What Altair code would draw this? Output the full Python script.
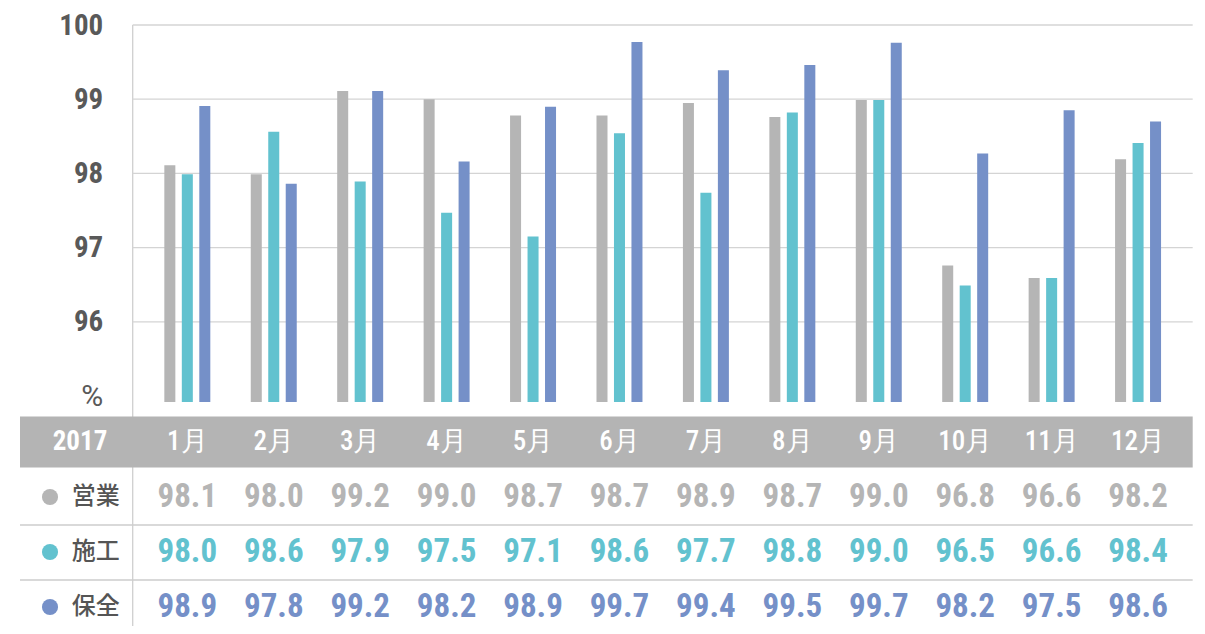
import altair as alt
import pandas as pd

# ---------------- data ----------------
months = ["1月", "2月", "3月", "4月", "5月", "6月", "7月", "8月", "9月", "10月", "11月", "12月"]
series_names = ["営業", "施工", "保全"]
series_colors = ["#b5b5b5", "#62c2cf", "#7590c8"]
year_label = "2017"

# bar heights (%)
bar_eigyo = [98.11, 97.99, 99.11, 99.00, 98.78, 98.78, 98.95, 98.76, 98.99, 96.76, 96.59, 98.19]
bar_seko = [97.99, 98.56, 97.89, 97.47, 97.15, 98.54, 97.74, 98.82, 98.99, 96.49, 96.59, 98.41]
bar_hozen = [98.91, 97.86, 99.11, 98.16, 98.90, 99.77, 99.39, 99.46, 99.76, 98.27, 98.85, 98.70]

# values printed in the table under the chart
tbl_eigyo = [98.1, 98.0, 99.2, 99.0, 98.7, 98.7, 98.9, 98.7, 99.0, 96.8, 96.6, 98.2]
tbl_seko = [98.0, 98.6, 97.9, 97.5, 97.1, 98.6, 97.7, 98.8, 99.0, 96.5, 96.6, 98.4]
tbl_hozen = [98.9, 97.8, 99.2, 98.2, 98.9, 99.7, 99.4, 99.5, 99.7, 98.2, 97.5, 98.6]

y_min, y_max = 94.92, 100
grid_values = [96, 97, 98, 99, 100]
axis_values = [95, 96, 97, 98, 99, 100]

# ---------------- tables for the library ----------------
bars = pd.DataFrame(
    [(m, s, v)
     for s, vals in zip(series_names, [bar_eigyo, bar_seko, bar_hozen])
     for m, v in zip(months, vals)],
    columns=["month", "series", "value"],
)
cells = pd.DataFrame(
    [(m, s, r + 1, v)
     for r, (s, vals) in enumerate(zip(series_names, [tbl_eigyo, tbl_seko, tbl_hozen]))
     for m, v in zip(months, vals)],
    columns=["month", "series", "row", "value"],
)
row_labels = pd.DataFrame({"series": series_names, "row": [1, 2, 3]})
header = pd.DataFrame({"month": months, "row": [0] * len(months)})
grid_df = pd.DataFrame({"v": grid_values})

W, H = 1060, 377
LEFT = -112.7

NUM_FONT = "Roboto Condensed, Liberation Sans Narrow, DejaVu Sans Condensed, Roboto, sans-serif"
CJK_FONT = "Noto Sans CJK JP"

xscale = alt.Scale(domain=months, paddingInner=0.468, paddingOuter=0.366)
yscale = alt.Scale(domain=[y_min, y_max], zero=False, nice=False)
rowscale = alt.Scale(domain=[0, 3], range=[417, 582], zero=False, nice=False)
cscale = alt.Scale(domain=series_names, range=series_colors)

X = alt.X("month:N", scale=xscale, axis=None, title=None)
Yrow = alt.Y("row:Q", scale=rowscale, axis=None)

vline = alt.Chart(pd.DataFrame({"k": [0]})).mark_rule(color="#cfcfcf", strokeWidth=1.3).encode(
    x=alt.value(0), y=alt.value(0), y2=alt.value(601)
)

grid = alt.Chart(grid_df).mark_rule(color="#d4d4d4", strokeWidth=1.3).encode(
    y=alt.Y("v:Q", scale=yscale, axis=None), x=alt.value(0), x2=alt.value(W)
)

bar_layer = alt.Chart(bars).mark_bar().encode(
    x=X,
    xOffset=alt.XOffset("series:N", scale=alt.Scale(domain=series_names, paddingInner=0.37, paddingOuter=0)),
    y=alt.Y(
        "value:Q",
        scale=yscale,
        title=None,
        axis=alt.Axis(
            values=axis_values,
            labelExpr="datum.value == 95 ? '%\u00a0' : datum.label",
            domain=False,
            ticks=False,
            tickSize=0,
            grid=False,
            labelPadding=30,
            labelFont={"condition": {"test": "datum.value == 95", "value": "Roboto"}, "value": NUM_FONT},
            labelFontSize={"condition": {"test": "datum.value == 95", "value": 30}, "value": 29},
            labelFontWeight={"condition": {"test": "datum.value == 95", "value": "normal"}, "value": "bold"},
            labelColor="#595959",
        ),
    ),
    y2=alt.datum(y_min),
    color=alt.Color("series:N", scale=cscale, legend=None),
)

header_band = alt.Chart(pd.DataFrame({"row": [0]})).mark_rule(
    color="#b4b4b4", strokeWidth=51, strokeCap="butt"
).encode(y=Yrow, x=alt.value(LEFT), x2=alt.value(W))

separators = alt.Chart(pd.DataFrame({"row": [1, 2]})).mark_rule(
    color="#cccccc", strokeWidth=1.3
).encode(y=Yrow, yOffset=alt.value(28), x=alt.value(LEFT), x2=alt.value(W))

header_months = alt.Chart(header).mark_text(
    color="white", font=NUM_FONT, fontSize=27, fontWeight=500, baseline="middle"
).encode(x=X, y=Yrow, text="month:N")

header_year = alt.Chart(pd.DataFrame({"row": [0], "t": [year_label]})).mark_text(
    color="white", font=NUM_FONT, fontSize=27, fontWeight="bold", baseline="middle"
).encode(x=alt.value(-52.7), y=Yrow, text="t:N")

dots = alt.Chart(row_labels).mark_circle(size=260, opacity=1).encode(
    x=alt.value(-82.7), y=Yrow, color=alt.Color("series:N", scale=cscale, legend=None)
)

labels = alt.Chart(row_labels).mark_text(
    align="left", baseline="middle", font=CJK_FONT, fontSize=24, fontWeight=500, color="#555555"
).encode(x=alt.value(-61), y=Yrow, text="series:N")

values = alt.Chart(cells).mark_text(
    font=NUM_FONT, fontSize=33, fontWeight="bold", baseline="middle"
).encode(
    x=X,
    y=Yrow,
    text=alt.Text("value:Q", format=".1f"),
    color=alt.Color("series:N", scale=cscale, legend=None),
)

chart = (
    alt.layer(vline, grid, bar_layer, header_band, separators, header_months, header_year, dots, labels, values)
    .resolve_scale(y="independent")
    .properties(
        width=W,
        height=H,
        autosize=alt.AutoSizeParams(type="none"),
        padding={"left": 124.7, "top": 17, "right": 4, "bottom": 224},
    )
    .configure_view(stroke=None)
)

chart.save("out.html", embed_options={"renderer": "svg", "actions": False})
